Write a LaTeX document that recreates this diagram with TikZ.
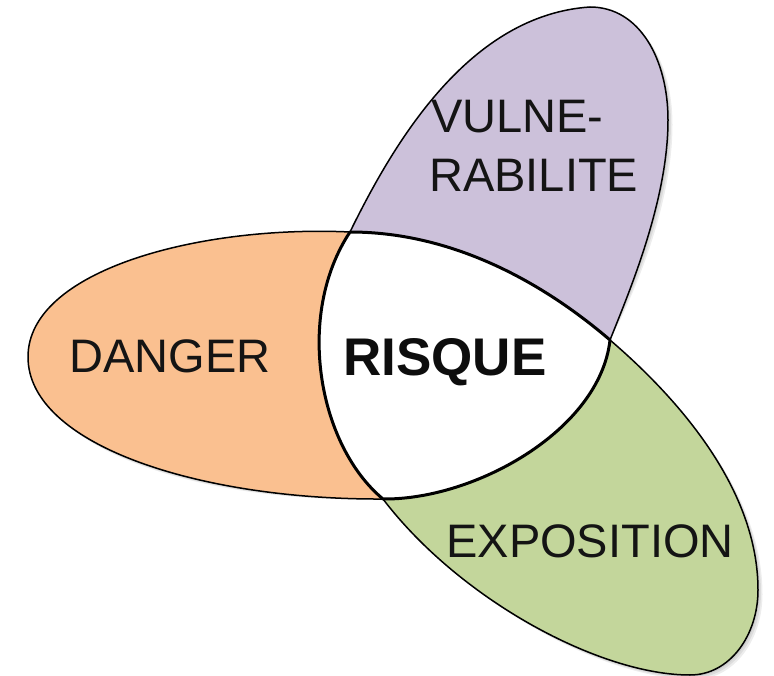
\documentclass[tikz,border=0pt]{standalone}
\usepackage{fontspec}
\setmainfont{Liberation Sans}
\definecolor{dangerfill}{HTML}{FAC090}
\definecolor{vulnfill}{HTML}{CCC1DA}
\definecolor{expofill}{HTML}{C3D69B}
\newcommand\dangerlobe{(A) .. controls (200,225) and (28,270) .. (28,357)
  .. controls (28,445) and (200,500) .. (C)
  .. controls (318,445) and (295,315) .. (A) -- cycle}
\newcommand\vulnlobe{(A) .. controls (395,140) and (470,15) .. (590,7)
  .. controls (640,7) and (668,60) .. (668,120)
  .. controls (668,200) and (630,290) .. (B)
  .. controls (540,280) and (450,232) .. (A) -- cycle}
\newcommand\expolobe{(C) .. controls (460,600) and (600,675) .. (690,675)
  .. controls (730,675) and (758,635) .. (758,590)
  .. controls (758,490) and (680,400) .. (B)
  .. controls (600,430) and (475,500) .. (C) -- cycle}
\begin{document}
\begin{tikzpicture}[x=1pt,y=-1pt,
  lobe/.style={draw=black,line width=1.5pt,line join=round},
  core/.style={draw=black,fill=white,line width=3pt,line join=round},
  softshadow/.style={fill=black,fill opacity=0.07,draw=none},
  lbl/.style={inner sep=0pt,font=\fontsize{47}{56}\selectfont,text=black!92},
  boldlbl/.style={inner sep=0pt,font=\fontsize{53}{60}\selectfont\bfseries,text=black!95}]
\useasboundingbox (0,0) rectangle (774,676);
\coordinate (A) at (350,232);
\coordinate (B) at (610,340);
\coordinate (C) at (383,499);
% soft shadows
\foreach \s in {1.5,3,4.5}{
  \path[softshadow,shift={(\s,\s)}] \dangerlobe;
  \path[softshadow,shift={(\s,\s)}] \vulnlobe;
  \path[softshadow,shift={(\s,\s)}] \expolobe;
}
% lobes
\path[lobe,fill=dangerfill] \dangerlobe;
\path[lobe,fill=vulnfill] \vulnlobe;
\path[lobe,fill=expofill] \expolobe;
% RISQUE core
\path[core] (A) .. controls (450,232) and (540,280) .. (B)
  .. controls (600,430) and (475,500) .. (C)
  .. controls (318,445) and (295,315) .. (A) -- cycle;
% labels
\node[lbl,anchor=base] (danger) at (170,373) {DANGER};
\node[boldlbl,anchor=base] (risque) at (445,376) {RISQUE};
\node[lbl,anchor=base west] (vuln1) at (431,133) {VULNE-};
\node[lbl,anchor=base west] (vuln2) at (429,192) {RABILITE};
\node[lbl,anchor=base] (expo) at (590,557) {EXPOSITION};
\end{tikzpicture}
\end{document}
